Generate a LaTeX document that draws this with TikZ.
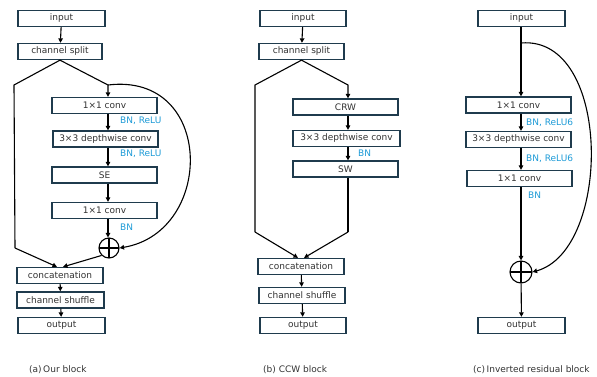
\documentclass[tikz,border=0pt]{standalone}
\usepackage{fontspec}
\setmainfont{DejaVu Sans}
\usetikzlibrary{arrows.meta,calc}
\definecolor{edge}{HTML}{1F3B4D}
\definecolor{bnblue}{HTML}{1E9BD7}
\definecolor{ink}{HTML}{333333}
\tikzset{
  % a layer box: thin dark frame, text centred
  blk/.style={
    draw=edge, line width=1.3pt, fill=white, text=ink,
    minimum height=16pt, inner sep=0pt,
    font=\fontsize{9}{10}\selectfont,
  },
  flow/.style={draw=black, line width=1.1pt},
  arr/.style={flow, -{Triangle[length=4.5pt,width=4.5pt]}},
  % BN / ReLU note next to an arrow
  note/.style={text=bnblue, anchor=west, inner sep=0pt,
    font=\fontsize{9}{10}\selectfont},
  subcap/.style={text=ink, anchor=west, inner sep=0pt,
    font=\fontsize{9}{10}\selectfont},
  sum/.style={circle, draw=black, line width=1.1pt, inner sep=0pt,
    path picture={\draw[line width=1.1pt]
      (path picture bounding box.north) -- (path picture bounding box.south)
      (path picture bounding box.west) -- (path picture bounding box.east);}},
}
\newcommand{\blk}[4]{%
  \node[blk, minimum width=#3pt] (#1) at (#2) {#4};}

\begin{document}
\begin{tikzpicture}[x=1pt,y=-1pt]
\useasboundingbox (0,0) rectangle (597,376);

% ----- (a) our block -----
\blk{ain}{61.5,18.5}{87}{input}
\blk{asplit}{60,51.5}{84}{channel split}
\blk{aconv}{104.5,105.5}{105}{1×1 conv}
\blk{adw}{105.5,139}{105}{3×3 depthwise conv}
\blk{ase}{104.5,175}{105}{SE}
\blk{aconvb}{104.5,210.5}{105}{1×1 conv}
\node[sum, minimum size=20pt] (asum) at (109,248) {};
\blk{acat}{60,275.5}{86}{concatenation}
\blk{ashuf}{60.5,300}{87}{channel shuffle}
\blk{aout}{61.5,325.5}{87}{output}

\coordinate (aleft) at (14,85);
\coordinate (aleftb) at (15,248);
\coordinate (aright) at (108,85);

\draw[arr] (ain) -- (asplit);
\draw[flow] (asplit.south) -- (aleft) -- (aleftb);
\draw[arr] (aleftb) -- ([xshift=-3pt]acat.north);
\draw[arr] (asplit.south) -- (aright) -- (aright |- aconv.north);
\draw[arr] (aconv.south -| aright) -- (adw.north -| aright);
\draw[arr] (adw.south -| aright) -- (ase.north -| aright);
\draw[arr] (ase.south -| aright) -- (aconvb.north -| aright);
\draw[arr] (aconvb.south -| aright) -- (asum.north -| aright);
\draw[arr] (aright) .. controls (215,72) and (215,232) .. (asum.east);
\draw[arr] (asum.south west) -- ([xshift=3pt]acat.north);
\draw[arr] (acat) -- (ashuf);
\draw[arr] (ashuf) -- (aout);

\node[note] at (120,121) {BN, ReLU};
\node[note] at (120,154) {BN, ReLU};
\node[note] at (120,227) {BN};
\node[subcap] (capa) at (29,370) {(a)\,Our block};

% ----- (b) CCW block -----
\blk{bin}{303,18.5}{86}{input}
\blk{bsplit}{301.5,51.5}{85}{channel split}
\blk{bcrw}{345.5,107}{105}{CRW}
\blk{bdw}{346.5,138.5}{107}{3×3 depthwise conv}
\blk{bsw}{345.5,169}{105}{SW}
\blk{bcat}{301,266.5}{86}{concatenation}
\blk{bshuf}{302,295.5}{86}{channel shuffle}
\blk{bout}{303,325.5}{86}{output}

\coordinate (bleft) at (255,85);
\coordinate (bleftb) at (255,232);
\coordinate (bright) at (348,85);
\coordinate (brightb) at (348,232);

\draw[arr] (bin) -- (bsplit);
\draw[flow] (bsplit.south) -- (bleft) -- (bleftb);
\draw[arr] (bleftb) -- ([xshift=-3pt]bcat.north);
\draw[arr] (bsplit.south) -- (bright) -- (bright |- bcrw.north);
\draw[arr] (bcrw.south -| bright) -- (bdw.north -| bright);
\draw[arr] (bdw.south -| bright) -- (bsw.north -| bright);
\draw[flow] (bsw.south -| bright) -- (brightb);
\draw[arr] (brightb) -- ([xshift=3pt]bcat.north);
\draw[arr] (bcat) -- (bshuf);
\draw[arr] (bshuf) -- (bout);

\node[note] at (358,153) {BN};
\node[subcap] (capb) at (263,370) {(b) CCW block};

% ----- (c) inverted residual block -----
\blk{cin}{521.5,18.5}{87}{input}
\blk{cconv}{518.5,105}{105}{1×1 conv}
\blk{cdw}{518.5,139.5}{105}{3×3 depthwise conv}
\blk{cconvb}{519.5,178.5}{105}{1×1 conv}
\node[sum, minimum size=22pt] (csum) at (521,272) {};
\blk{cout}{521.5,325.5}{87}{output}

\coordinate (cmid) at (521,43);

\draw[arr] (cin.south -| csum) -- (cconv.north -| csum);
\draw[arr] (cconv.south -| csum) -- (cdw.north -| csum);
\draw[arr] (cdw.south -| csum) -- (cconvb.north -| csum);
\draw[arr] (cconvb.south -| csum) -- (csum.north);
\draw[arr] (cmid) .. controls (612,35) and (612,250) .. (csum.east);
\draw[arr] (csum) -- (cout);

\node[note] at (526,123) {BN, ReLU6};
\node[note] at (526,159) {BN, ReLU6};
\node[note] at (528,195) {BN};
\node[subcap] (capc) at (473,370) {(c)\,Inverted residual block};

\end{tikzpicture}
\end{document}
